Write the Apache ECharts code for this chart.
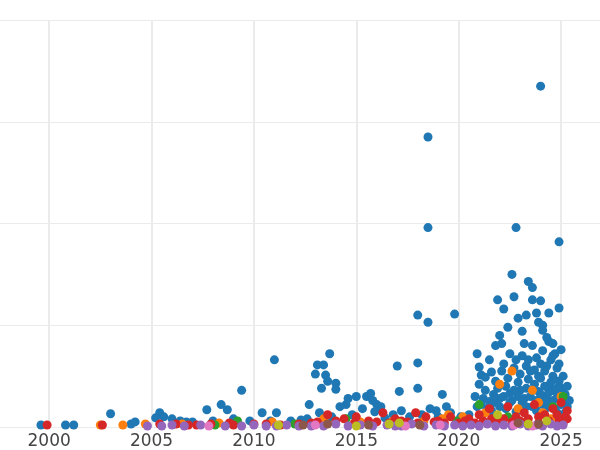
<!DOCTYPE html>
<html><head><meta charset="utf-8">
<script src="https://cdn.jsdelivr.net/npm/echarts@6/dist/echarts.min.js"></script>
<style>html,body{margin:0;padding:0;background:#fff}#c{width:600px;height:450px}</style>
</head><body><div id="c"></div>
<script>
const xTicks = [2000, 2005, 2010, 2015, 2020, 2025];
const blue = [
[1999.6,2],[2000.8,2],[2001.2,2],[2003.0,13],[2004.0,3],[2004.2,5],[2005.4,14],[2005.6,10],[2006.0,8],[2006.7,5],[2007.7,17],[2008.4,22],[2008.7,17],[2009.4,36],[2010.4,14],[2011.0,66],[2011.1,14],[2012.3,7],[2012.7,22],[2013.0,52],[2013.1,61],[2013.4,61],[2013.5,51],[2013.3,38],[2013.7,72],[2013.6,45],[2014.0,43],[2014.0,37],[2014.5,22],[2015.0,30],[2015.5,30],[2015.7,33],[2015.8,26],[2016.2,20],[2017.0,60],[2017.1,35],[2018.0,63],[2018.0,38],[2018.0,110],[2018.5,285],[2018.5,196],[2018.5,103],[2019.2,32],[2019.8,111],[2020.9,72],[2021.0,59],[2021.1,51],[2021.3,49],[2021.6,54],[2021.9,125],[2022.0,90],[2022.1,82],[2022.5,72],[2022.6,150],[2022.7,128],[2022.8,196],[2022.9,107],[2023.1,94],[2023.2,82],[2023.4,143],[2023.6,137],[2023.6,125],[2023.9,103],[2024.0,124],[2024.1,95],[2024.0,335],[2024.4,84],[2024.9,182],[2024.8,58],[2024.9,117],[2025.0,76],
[2020.8,30],[2020.9,20],[2021.0,42],[2021.2,28],[2021.3,36],[2021.5,25],[2021.7,32],[2021.8,45],[2021.9,38],[2022.0,28],[2022.1,55],[2022.2,62],[2022.3,40],[2022.4,48],[2022.5,33],[2022.6,26],[2022.7,58],[2022.8,66],[2022.9,44],[2023.0,52],[2023.0,36],[2023.1,70],[2023.2,28],[2023.3,60],[2023.4,47],[2023.5,55],[2023.6,80],[2023.7,42],[2023.8,68],[2023.9,35],[2024.0,62],[2024.0,48],[2024.1,75],[2024.2,30],[2024.2,55],[2024.3,88],[2024.4,40],[2024.5,66],[2024.5,22],[2024.6,50],[2024.7,35],[2024.7,72],[2024.8,28],[2024.9,45],[2025.0,38],[2025.1,25],[2025.2,32],[2025.3,20],[2025.4,26],
[2021.1,22],[2021.4,18],[2021.7,24],[2022.0,20],[2022.2,30],[2022.5,24],[2022.7,36],[2022.9,30],[2023.1,24],[2023.3,38],[2023.5,30],[2023.6,20],[2023.8,26],[2024.0,32],[2024.1,22],[2024.3,28],[2024.4,34],[2024.6,26],[2024.7,18],[2024.9,30],[2025.0,22],[2025.1,34],[2025.2,14],[2024.2,40],[2024.5,44],[2024.8,38],[2023.7,56],[2023.4,66],[2023.9,50],[2024.3,60],[2024.6,82],[2024.1,100],[2023.8,112],[2023.3,110],[2022.4,98],[2022.2,116],[2021.5,66],[2021.8,80],[2024.4,112],[2024.6,70],[2024.9,62],[2025.1,50],[2025.3,40],
[2022.3,18],[2022.8,15],[2023.3,20],[2023.8,16],[2024.3,19],[2024.8,14],[2021.6,16],[2020.5,12],[2019.6,14],[2019.0,10],[2018.6,18],[2018.2,12],[2017.6,10],[2017.2,16],[2016.8,12],[2016.4,9],[2015.9,15],[2015.3,18],[2014.8,12],[2014.2,20],[2013.8,10],[2013.2,14],[2012.6,8],[2011.8,6],[2010.8,6],[2009.8,6],[2009.0,8],[2008.0,6],[2007.0,5],[2006.4,6],[2005.2,9],[2019.4,20],[2018.9,16],[2020.1,10],[2016.0,22],[2014.6,28]
];
const orange = [[2002.5,2],[2003.6,2],[2004.7,3],[2006.5,3],[2008.3,4],[2010.9,5],[2013.4,8],[2015.2,5],[2016.8,6],[2018.3,6],[2019.5,12],[2020.2,10],[2021.3,14],[2022.0,42],[2022.6,55],[2022.9,18],[2023.6,36],[2023.9,24],[2024.5,8],[2025.0,30],[2024.1,14],[2021.8,8],[2019.2,8],[2017.4,4]];
const green = [[2008.1,2],[2009.2,6],[2012.0,3],[2014.5,8],[2017.5,4],[2019.9,6],[2021.0,22],[2022.4,10],[2023.3,5],[2025.1,30],[2024.6,20]];
const red = [[1999.9,2],[2002.6,2],[2005.4,3],[2006.8,2],[2007.9,3],[2009.0,2],[2010.0,3],[2011.3,2],[2012.2,3],[2013.1,5],[2013.6,12],[2014.4,8],[2015.0,10],[2015.6,6],[2016.3,14],[2016.9,8],[2017.5,5],[2017.9,14],[2018.4,10],[2019.0,6],[2019.6,10],[2020.0,4],[2020.5,8],[2021.0,12],[2021.5,18],[2022.0,6],[2022.4,20],[2022.8,10],[2023.2,14],[2023.7,22],[2024.2,12],[2024.6,18],[2025.0,24],[2025.2,10],[2025.3,16],[2024.9,6],[2023.9,4],[2021.8,4],
[2006.2,3],[2007.2,2],[2008.8,4],[2010.6,3],[2012.8,4],[2014.0,6],[2014.9,4],[2016.0,5],[2016.6,4],[2017.2,6],[2018.0,4],[2018.8,5],[2019.3,4],[2020.3,6],[2020.8,4],[2021.2,6],[2021.6,8],[2022.2,8],[2022.6,5],[2023.0,6],[2023.4,8],[2023.9,10],[2024.4,6],[2024.8,12],[2025.1,4],[2025.3,8]];
const purple = [[2004.8,1],[2006.0,2],[2007.4,2],[2008.6,1],[2010.0,2],[2011.6,2],[2012.8,1],[2014.0,3],[2015.2,2],[2016.5,2],[2017.7,3],[2018.9,2],[2019.8,2],[2020.6,2],[2021.4,3],[2022.2,2],[2023.0,3],[2023.8,2],[2024.5,3],[2025.1,2],
[2005.5,1],[2006.6,1],[2009.4,1],[2010.6,1],[2011.1,1],[2012.2,1],[2013.4,1],[2014.6,1],[2015.8,1],[2016.9,1],[2017.2,1],[2018.3,1],[2019.3,1],[2020.2,1],[2021.0,1],[2021.8,1],[2022.6,1],[2023.4,1],[2024.1,1],[2024.8,1]];
const pink = [[2007.8,1],[2013.0,2],[2017.4,1],[2019.1,2],[2022.7,2],[2023.6,1]];
const olive = [[2011.2,2],[2015.0,1],[2016.6,3],[2017.1,4],[2021.9,12],[2023.4,3],[2024.3,6]];
const brown = [[2012.4,2],[2013.6,3],[2015.6,2],[2018.1,2],[2022.9,4],[2023.9,3]];
const seriesNames = ['a','b','c','d','e','f','g','h'];
const seriesData = [blue, orange, green, red, purple, pink, olive, brown];
const colors = ['#1f77b4','#ff7f0e','#2ca02c','#d62728','#9467bd','#e377c2','#bcbd22','#8c564b'];
const chart = echarts.init(document.getElementById('c'));
chart.setOption({
  animation:false,
  grid:{left:0,right:0,top:20,bottom:23},
  xAxis:{type:'value',min:1997.6,max:2026.9,
    axisLine:{show:false},
    axisTick:{show:false,customValues:xTicks},
    axisLabel:{customValues:xTicks,color:'#444',fontSize:17,fontFamily:'DejaVu Sans',margin:6,formatter:v=>String(v)},
    splitLine:{show:true,lineStyle:{color:'#ebebeb',width:2}}},
  yAxis:{type:'value',min:0,max:400,interval:100,
    axisLine:{show:false},axisTick:{show:false},axisLabel:{show:false},
    splitLine:{lineStyle:{color:'#ebebeb',width:1}}},
  series: seriesData.map((d,i)=>({name:seriesNames[i],type:'scatter',data:d,symbolSize:9,
    itemStyle:{color:colors[i],opacity:1},clip:true}))
});
</script></body></html>
